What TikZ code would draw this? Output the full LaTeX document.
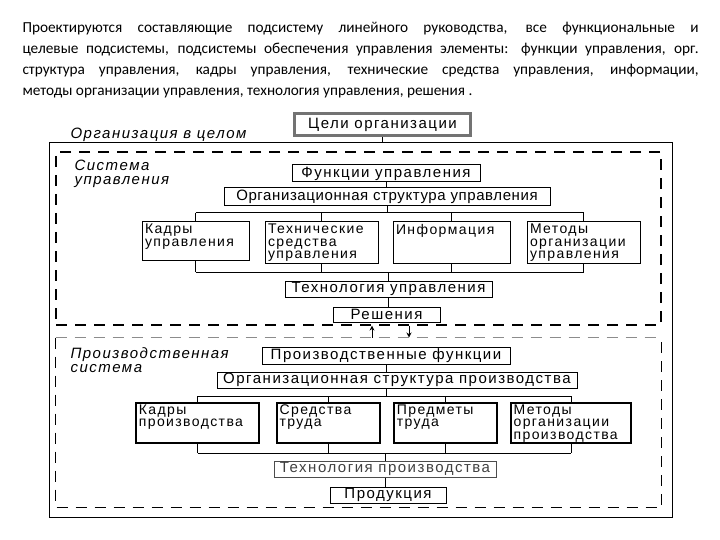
\documentclass[tikz,border=0pt]{standalone}
\usepackage{fontspec}
\setmainfont{Carlito}
\newfontfamily\diag{Liberation Sans}[LetterSpace=10]
\newfontfamily\diagn{Liberation Sans}[LetterSpace=4]
\usetikzlibrary{arrows.meta}

\begin{document}
\begin{tikzpicture}[x=1pt,y=-1pt,line width=1pt]
  \tikzset{blk/.style={draw,inner sep=0pt,font=\diag\fontsize{15}{15}\selectfont},
           txt/.style={anchor=north west,align=left,inner xsep=3pt,inner ysep=2pt,font=\diag\fontsize{14}{12.5}\selectfont},
           sub/.style={align=left,inner sep=0pt,font=\diag\itshape\fontsize{15}{14}\selectfont},
           frm/.style={line width=1.2pt,dash pattern=on 11pt off 8pt}}
  \useasboundingbox (0,0) rectangle (720,540);
  \node[anchor=north west,text width=676pt,align=justify,inner sep=0pt,
        font=\fontsize{15.3}{21}\selectfont] (intro) at (22,22)
       {Проектируются составляющие подсистему линейного руководства, все функциональные и\linebreak
        целевые подсистемы, подсистемы обеспечения управления элементы: функции управления, орг.\linebreak
        структура управления, кадры управления, технические средства управления, информации,\linebreak
        методы организации управления, технология управления, решения .};
  % frames
  \node[draw,minimum width=623,minimum height=374,inner sep=0pt] (org) at (360.5,330) {};
  \node[draw,frm,minimum width=605,minimum height=173,inner sep=0pt] (ms) at (358.5,238.5) {};
  \node[minimum width=605,minimum height=169,inner sep=0pt] (ps) at (358.5,422.5) {};
  \draw[frm] (ps.north west) -- (ps.south west) -- (ps.south east) -- (ps.north east);
  \draw[frm,black!45] (ps.north west) -- (ps.north east);
  \node[sub,anchor=base west] (orgl) at (70,139) {Организация в целом};
  \node[sub,anchor=north west] (msl) at (74,160) {Система\\управления};
  \node[sub,anchor=north west] (psl) at (70,347) {Производственная\\система};
  % management system
  \node[blk,line width=3pt,draw=black!55,minimum width=176,minimum height=22] (goal) at (382.5,124.5) {Цели организации};
  \node[blk,minimum width=188,minimum height=17] (fu) at (386,173.5) {Функции управления};
  \node[blk,font=\diagn\fontsize{15}{15}\selectfont,minimum width=326,minimum height=18] (osu) at (387,197) {Организационная структура управления};
  \node[blk,minimum width=107,minimum height=38,label={[txt]north west:Кадры\\управления}] (ku) at (195.5,241) {};
  \node[blk,minimum width=113,minimum height=41,label={[txt]north west:Технические\\средства\\управления}] (ts) at (321.5,242.5) {};
  \node[blk,minimum width=117,minimum height=41,label={[txt]north west:Информация}] (inf) at (451.5,242.5) {};
  \node[blk,minimum width=113,minimum height=41,label={[txt]north west:Методы\\организации\\управления}] (mu) at (583.5,242.5) {};
  \node[blk,minimum width=207,minimum height=16] (tu) at (388.5,289) {Технология управления};
  \node[blk,minimum width=107,minimum height=15] (res) at (386.5,314.5) {Решения};
  % production system
  \node[blk,minimum width=248,minimum height=17] (pf) at (386,355.5) {Производственные функции};
  \node[blk,minimum width=360,minimum height=16] (osp) at (397,380) {Организационная структура производства};
  \node[blk,line width=1.3pt,minimum width=123,minimum height=40,label={[txt]north west:Кадры\\производства}] (kp) at (197.5,423) {};
  \node[blk,line width=1.8pt,minimum width=103,minimum height=40,label={[txt]north west:Средства\\труда}] (st) at (328.5,423) {};
  \node[blk,line width=1.3pt,minimum width=103,minimum height=40,label={[txt]north west:Предметы\\труда}] (pt) at (445.5,423) {};
  \node[blk,line width=1.8pt,minimum width=120,minimum height=40,label={[txt]north west:Методы\\организации\\производства}] (mp) at (571,423) {};
  \node[blk,draw=black!70,text=black!75,minimum width=222,minimum height=16] (tp) at (385,469) {Технология производства};
  \node[blk,minimum width=116,minimum height=16] (prod) at (388,495) {Продукция};
  % connectors
  \coordinate (ub) at (0,213);
  \coordinate (ul) at (0,272);
  \coordinate (pb) at (0,396);
  \coordinate (pl) at (0,453);
  \coordinate (au) at (372,0);
  \coordinate (ad) at (409,0);
  \draw (goal.south) -- (goal.south |- org.north);
  \draw (fu.south) -- (fu.south |- osu.north);
  \draw (osu.south) -- (osu.south |- ub);
  \draw (ku.north |- ub) -- (mu.north |- ub);
  \draw (ku.south |- ul) -- (mu.south |- ul);
  \foreach \n in {ku,ts,inf,mu}
    \draw (\n.north |- ub) -- (\n.north) (\n.south) -- (\n.south |- ul);
  \draw (tu.north |- ul) -- (tu.north);
  \draw (tu.south) -- (tu.south |- res.north);
  \draw[-{Stealth[length=5pt,width=5pt]}] (au |- ps.north) -- (au |- ms.south);
  \draw[-{Stealth[length=5pt,width=5pt]}] (ad |- ms.south) -- (ad |- ps.north);
  \draw (pf.south) -- (pf.south |- osp.north);
  \draw (pf.south |- osp.south) -- (pf.south |- pb);
  \draw (kp.north |- pb) -- (mp.north |- pb);
  \draw (kp.south |- pl) -- (mp.south |- pl);
  \foreach \n in {kp,st,pt,mp}
    \draw (\n.north |- pb) -- (\n.north) (\n.south) -- (\n.south |- pl);
  \draw (tp.north |- pl) -- (tp.north);
  \draw (tp.south) -- (tp.south |- prod.north);
\end{tikzpicture}
\end{document}
